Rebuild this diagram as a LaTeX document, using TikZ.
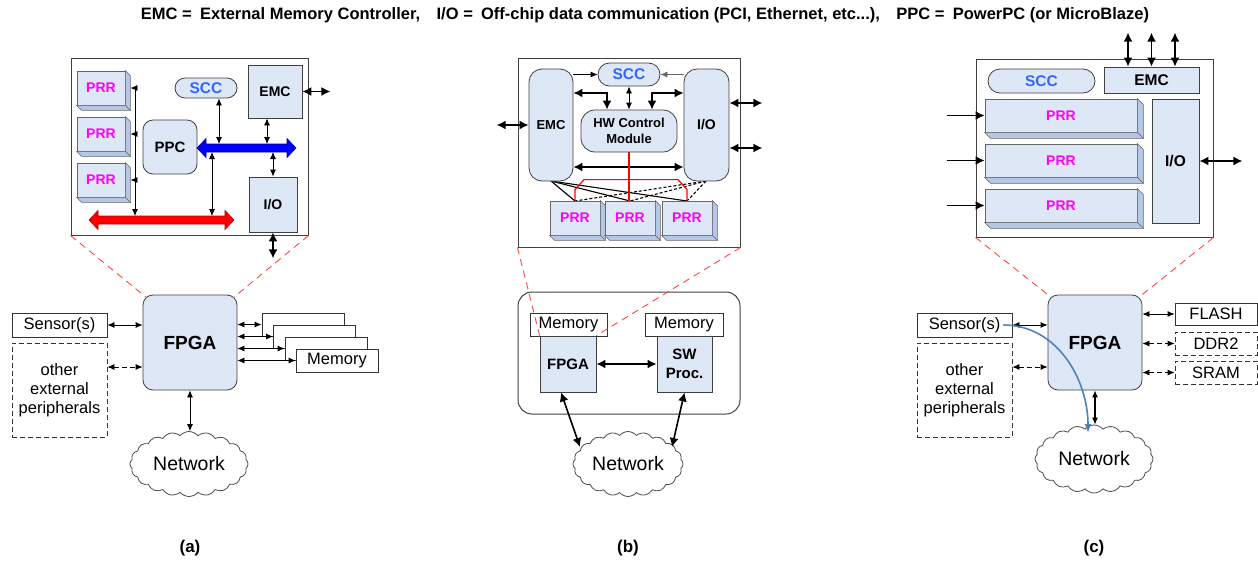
\documentclass[tikz,border=0pt]{standalone}
\usepackage{fontspec}
\setmainfont{Liberation Sans}
\usetikzlibrary{arrows.meta,shapes.symbols}
\definecolor{cFill}{RGB}{221,231,245}
\definecolor{cSide}{RGB}{180,199,231}
\definecolor{cEdge}{RGB}{64,64,64}
\definecolor{cPRR}{RGB}{255,0,255}
\definecolor{cSCC}{RGB}{51,102,255}
\definecolor{cBusR}{RGB}{255,0,0}
\definecolor{cBusB}{RGB}{0,0,255}
\definecolor{cLink}{RGB}{79,129,189}
\definecolor{cZoom}{RGB}{255,70,70}

\newcommand{\prrblock}[6]{%
  \node[prrface,minimum width=#4pt,minimum height=#5pt] (#1) at (#2,#3) {PRR};
  \filldraw[prrside] (#1.north east) -- ++(#6,#6) -- ([shift={(#6,#6)}]#1.south east) -- (#1.south east) -- cycle;
  \filldraw[prrside] (#1.south west) -- ([shift={(#6,#6)}]#1.south west) -- ([shift={(#6,#6)}]#1.south east) -- (#1.south east) -- cycle;
}
\newcommand{\busbar}[6]{%
  \coordinate (#1-n) at (#2,#4-4);
  \coordinate (#1-s) at (#2,#4+4);
  \filldraw[fill=#5,draw=#6,line width=0.6pt] (#2,#4) -- (#2+9,#4-9.5) -- (#2+9,#4-4) -- (#3-9,#4-4) -- (#3-9,#4-9.5)
    -- (#3,#4) -- (#3-9,#4+9.5) -- (#3-9,#4+4) -- (#2+9,#4+4) -- (#2+9,#4+9.5) -- cycle;
}

\begin{document}
\begin{tikzpicture}[x=1pt,y=-1pt,
  blk/.style={draw=cEdge,fill=cFill,line width=0.8pt,inner sep=0,font=\bfseries\fontsize{14}{16}\selectfont},
  rblk/.style={blk,rounded corners=10pt},
  pillblk/.style={blk,rounded corners=10pt,text=cSCC,font=\bfseries\fontsize{15.5}{17}\selectfont},
  prrface/.style={blk,draw=cEdge!80,text=cPRR},
  prrside/.style={fill=cSide,draw=cEdge!80,line width=0.6pt},
  panelbox/.style={draw=cEdge,line width=1pt,inner sep=0},
  extbox/.style={draw=black!80,fill=white,line width=0.8pt,inner sep=0,font=\fontsize{16.5}{19}\selectfont},
  dextbox/.style={extbox,dash pattern=on 5pt off 3pt},
  netcloud/.style={cloud,cloud puffs=20,cloud puff arc=100,aspect=1.8,draw=black!70,line width=0.8pt,inner sep=0,font=\fontsize{19.5}{21}\selectfont},
  lnk/.style={{Latex[length=7pt,width=6pt]}-{Latex[length=7pt,width=6pt]},line width=0.8pt},
  slnk/.style={-{Latex[length=7pt,width=6pt]},line width=0.8pt},
  tlnk/.style={{Latex[length=9pt,width=9pt]}-{Latex[length=9pt,width=9pt]},line width=1.6pt},
  tslnk/.style={-{Latex[length=9pt,width=9pt]},line width=1.6pt},
  dsh/.style={dash pattern=on 5pt off 3pt},
  zoomln/.style={cZoom,dash pattern=on 7pt off 5pt,line width=0.9pt},
  caption/.style={font=\bfseries\fontsize{17}{19}\selectfont}]
\useasboundingbox (0,0) rectangle (1258,565);

\node[font=\bfseries\fontsize{16.5}{18}\selectfont] (title) at (645,15)
  {EMC =\enspace External Memory Controller,\quad I/O =\enspace Off-chip data communication (PCI, Ethernet, etc...),\quad PPC =\enspace PowerPC (or MicroBlaze)};

% (a) bus based system
\node[panelbox,minimum width=237pt,minimum height=177pt] (boxA) at (189.5,146.5) {};
\prrblock{prrA1}{101}{88}{48}{34}{5}
\prrblock{prrA2}{101}{134}{48}{34}{5}
\prrblock{prrA3}{101}{180}{48}{34}{5}
\node[pillblk,minimum width=62pt,minimum height=20pt] (sccA) at (206,88) {SCC};
\node[blk,minimum width=54pt,minimum height=53pt] (emcA) at (275,91.5) {EMC};
\node[rblk,minimum width=54pt,minimum height=54pt,font=\bfseries\fontsize{15}{17}\selectfont] (ppcA) at (170,147) {PPC};
\node[blk,minimum width=48pt,minimum height=55pt] (ioA) at (273,204.5) {I/O};
\busbar{bbusA}{197}{296}{148}{cBusB}{cBusB!60!black}
\busbar{rbusA}{89}{234}{220}{cBusR}{cBusR!70!black}
\coordinate (tapA) at (135,0);
\draw[lnk] ([xshift=5pt]prrA1.east) -| (tapA |- rbusA-n);
\draw[slnk] (tapA |- prrA2.east) -- ([xshift=5pt]prrA2.east);
\draw[slnk] (tapA |- prrA3.east) -- ([xshift=5pt]prrA3.east);
\draw[lnk] ([xshift=13pt]sccA.south) -- ([xshift=13pt]sccA.south |- bbusA-n);
\draw[lnk] ([xshift=-8pt]emcA.south) -- ([xshift=-8pt]emcA.south |- bbusA-n);
\draw[lnk] (ioA.north |- bbusA-s) -- (ioA.north);
\draw[lnk] ([xshift=42pt]ppcA.south |- bbusA-s) -- ([xshift=42pt]ppcA.south |- rbusA-n);
\draw[tlnk] (emcA.east) -- ++(28,0);
\draw[tlnk] (ioA.south) -- ++(0,26);

\node[rblk,minimum width=94pt,minimum height=95pt,font=\bfseries\fontsize{19}{21}\selectfont] (fpgaA) at (190,342.5) {FPGA};
\node[extbox,minimum width=95pt,minimum height=24pt] (sensA) at (59.5,325) {Sensor(s)};
\node[dextbox,minimum width=95pt,minimum height=94pt,align=center] (othA) at (59.5,390) {other\\external\\peripherals};
\node[extbox,minimum width=82pt,minimum height=23pt] (memA1) at (303,324.5) {};
\node[extbox,minimum width=82pt,minimum height=23pt] (memA2) at (314.5,336.5) {};
\node[extbox,minimum width=82pt,minimum height=23pt] (memA3) at (326,348.5) {};
\node[extbox,minimum width=82pt,minimum height=23pt] (memA4) at (337,360.5) {Memory};
\foreach \m in {memA1,memA2,memA3,memA4}
  \draw[lnk] (fpgaA.east |- \m.west) -- (\m.west);
\draw[lnk] (sensA.east) -- (sensA.east -| fpgaA.west);
\draw[lnk,dsh] ([yshift=23pt]othA.east) -- ([yshift=23pt]othA.east -| fpgaA.west);
\node[netcloud,minimum width=118pt,minimum height=65pt] (netA) at (189,464) {Network};
\draw[lnk] (fpgaA.south) -- (fpgaA.south |- netA.north);
\draw[zoomln] (boxA.south west) -- ([shift={(4,3)}]fpgaA.north west);
\draw[zoomln] (boxA.south east) -- ([shift={(-4,3)}]fpgaA.north east);
\node[caption] (capA) at (190,548) {(a)};

% (b) fpga next to a processor
\node[panelbox,minimum width=222pt,minimum height=189pt] (boxB) at (629,152.5) {};
\foreach \p in {575,630,687} {
  \draw[line width=1.1pt] (551,181) -- (\p,201);
  \draw[line width=1.1pt,dash pattern=on 3pt off 2pt] (706,181) -- (\p,201);
}
\node[pillblk,rounded corners=11.5pt,minimum width=62pt,minimum height=23pt] (sccB) at (629,74.5) {SCC};
\node[blk,rounded corners=13pt,minimum width=44pt,minimum height=112pt,font=\bfseries\fontsize{13}{15}\selectfont] (emcB) at (551,125) {EMC};
\node[blk,rounded corners=13pt,minimum width=45pt,minimum height=112pt] (ioB) at (706.5,125) {I/O};
\node[blk,rounded corners=14pt,minimum width=96pt,minimum height=42pt,align=center,font=\bfseries\fontsize{13}{16}\selectfont] (hwB) at (629,131) {HW Control\\Module};
\prrblock{prrB1}{575}{218}{50}{34}{5}
\prrblock{prrB2}{630}{218}{50}{34}{5}
\prrblock{prrB3}{687}{218}{50}{34}{5}
\draw[tlnk] (emcB.west) -- ++(-32,0);
\draw[tlnk] ([yshift=22pt]ioB.east) -- ++(33,0);
\draw[tlnk] ([yshift=-23pt]ioB.east) -- ++(33,0);
\draw[slnk] (emcB.east |- sccB.west) -- (sccB.west);
\draw[slnk,black!60] (ioB.west |- sccB.east) -- (sccB.east);
\draw[lnk] (sccB.south) -- (hwB.north);
\draw[tlnk] ([yshift=32pt]emcB.east) -| ([xshift=-22pt]hwB.north);
\draw[tlnk] ([yshift=32pt]ioB.west) -| ([xshift=23pt]hwB.north);
\draw[tlnk] ([yshift=-42pt]emcB.east) -- ([yshift=-42pt]ioB.west);
\draw[red,line width=1.2pt] (hwB.south) -- (hwB.south |- prrB2.north);
\draw[red,line width=1.2pt] (prrB1.north) -- ++(0,-11) -- ++(9,-10) -- ([shift={(-9,-21)}]prrB3.north) -- ([shift={(0,-11)}]prrB3.north) -- (prrB3.north);

\node[panelbox,rounded corners=14pt,minimum width=222pt,minimum height=122pt] (sysB) at (629,353) {};
\node[extbox,minimum width=77pt,minimum height=23pt] (memB1) at (568.5,324.5) {Memory};
\node[blk,minimum width=56pt,minimum height=56pt,font=\bfseries\fontsize{15}{17}\selectfont] (fpgaB) at (568,364) {FPGA};
\node[extbox,minimum width=78pt,minimum height=23pt] (memB2) at (684,324.5) {Memory};
\node[blk,minimum width=55pt,minimum height=56pt,align=center,font=\bfseries\fontsize{15}{19}\selectfont] (swB) at (684.5,364) {SW\\Proc.};
\draw[tlnk] (fpgaB.east) -- (swB.west);
\node[netcloud,minimum width=110pt,minimum height=65pt] (netB) at (628,464) {Network};
\draw[tlnk] ([xshift=-7pt]fpgaB.south) -- ([shift={(-48,-17)}]netB.center);
\draw[tlnk] (swB.south) -- ([shift={(44,-17)}]netB.center);
\draw[zoomln] (boxB.south west) -- (fpgaB.north west);
\draw[zoomln] (boxB.south east) -- (fpgaB.north east);
\node[caption] (capB) at (628,548) {(b)};

% (c) stream based system
\node[panelbox,minimum width=237pt,minimum height=178pt] (boxC) at (1094.5,148) {};
\node[pillblk,rounded corners=12pt,minimum width=107pt,minimum height=24pt] (sccC) at (1041.5,81) {SCC};
\node[blk,minimum width=95pt,minimum height=26pt,font=\bfseries\fontsize{15.5}{17}\selectfont] (emcC) at (1151.5,80) {EMC};
\foreach \dx in {-23.5,0,23.5}
  \draw[tlnk] ([xshift=\dx pt]emcC.north) -- ++(0,-34);
\prrblock{prrC1}{1061}{115.5}{152}{33}{6}
\prrblock{prrC2}{1061}{160.5}{152}{33}{6}
\prrblock{prrC3}{1061}{205.5}{152}{33}{6}
\node[blk,minimum width=47pt,minimum height=124pt,font=\bfseries\fontsize{15.5}{17}\selectfont] (ioC) at (1175.5,161) {I/O};
\draw[tlnk] (ioC.east) -- ++(43,0);
\foreach \p in {prrC1,prrC2,prrC3}
  \draw[tslnk] ([xshift=-38pt]\p.west) -- (\p.west);

\node[rblk,minimum width=94pt,minimum height=95pt,font=\bfseries\fontsize{19}{21}\selectfont] (fpgaC) at (1095,342.5) {FPGA};
\node[extbox,minimum width=95pt,minimum height=24pt] (sensC) at (964.5,325) {Sensor(s)};
\node[dextbox,minimum width=95pt,minimum height=94pt,align=center] (othC) at (964.5,390) {other\\external\\peripherals};
\node[extbox,minimum width=82pt,minimum height=22pt] (flashC) at (1216,314) {FLASH};
\node[dextbox,minimum width=82pt,minimum height=23pt] (ddrC) at (1216,343.5) {DDR2};
\node[dextbox,minimum width=82pt,minimum height=23pt] (sramC) at (1216,372.5) {SRAM};
\draw[lnk] (flashC.west -| fpgaC.east) -- (flashC.west);
\draw[lnk,dsh] (ddrC.west -| fpgaC.east) -- (ddrC.west);
\draw[lnk,dsh] (sramC.west -| fpgaC.east) -- (sramC.west);
\draw[lnk] (sensC.east) -- (sensC.east -| fpgaC.west);
\draw[lnk,dsh] ([yshift=23pt]othC.east) -- ([yshift=23pt]othC.east -| fpgaC.west);
\node[netcloud,minimum width=118pt,minimum height=68pt] (netC) at (1094,459) {Network};
\draw[lnk,line width=1.1pt] (fpgaC.south) -- (fpgaC.south |- netC.north);
\draw[cLink,line width=1.6pt,-{Latex[length=9pt,width=7pt]}] ([xshift=-9pt]sensC.east) to[out=0,in=90] ([shift={(-6,-26)}]netC.center);
\draw[zoomln] (boxC.south west) -- ([shift={(4,3)}]fpgaC.north west);
\draw[zoomln] (boxC.south east) -- ([shift={(-4,3)}]fpgaC.north east);
\node[caption] (capC) at (1094,548) {(c)};
\end{tikzpicture}
\end{document}
